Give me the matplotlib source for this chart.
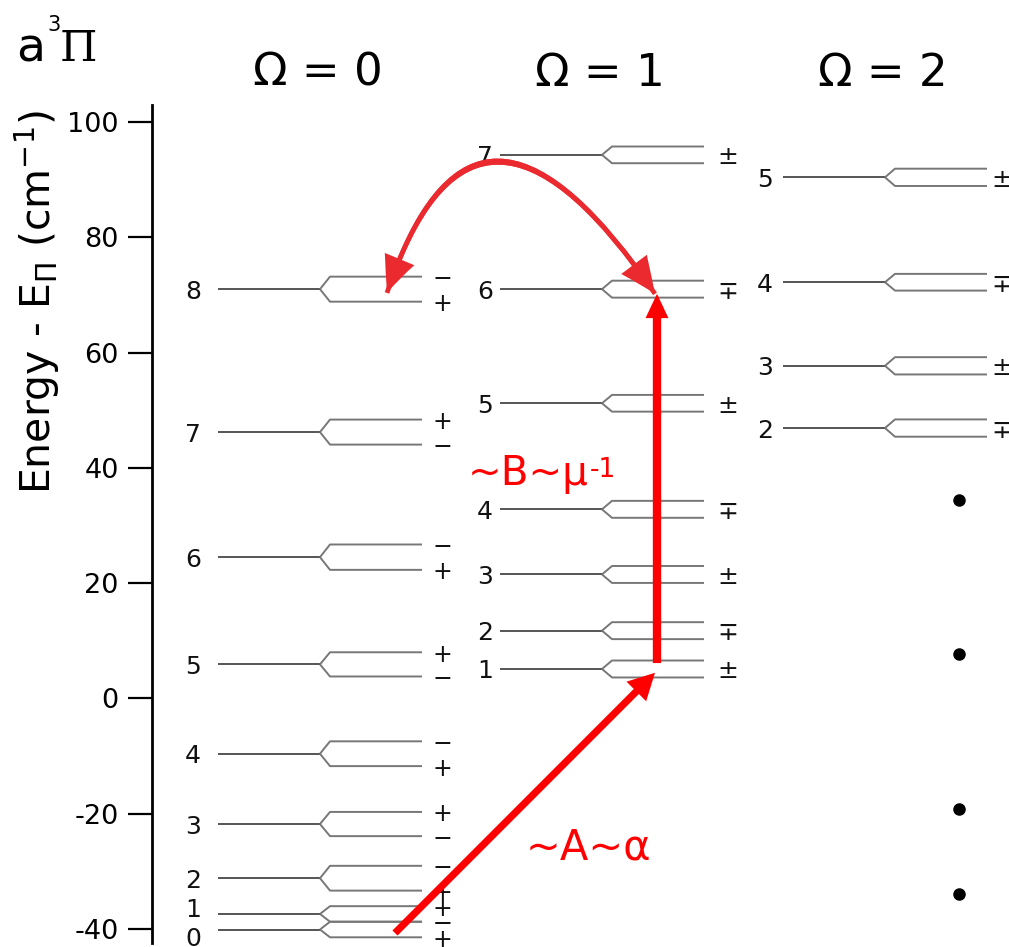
import matplotlib
matplotlib.use("Agg")
import matplotlib.pyplot as plt
from matplotlib.patches import FancyArrowPatch
from matplotlib.path import Path

# ---------------- data ----------------
omega_titles = ["Ω = 0", "Ω = 1", "Ω = 2"]

j_omega0 = [0, 1, 2, 3, 4, 5, 6, 7, 8]
e_omega0 = [-40.1, -37.4, -31.2, -21.8, -9.6, 5.9, 24.5, 46.2, 71.0]
split_omega0 = [1.35, 1.35, 2.15, 2.1, 2.15, 2.1, 2.2, 2.17, 2.17]
upper_parity_omega0 = ["−", "+", "−", "+", "−", "+", "−", "+", "−"]
lower_parity_omega0 = ["+", "−", "+", "−", "+", "−", "+", "−", "+"]

j_omega1 = [1, 2, 3, 4, 5, 6, 7]
e_omega1 = [5.1, 11.75, 21.5, 32.8, 51.2, 71.0, 94.3]
split_omega1 = [1.47, 1.47, 1.47, 1.47, 1.45, 1.47, 1.45]
parity_omega1 = ["±", "∓", "±", "∓", "±", "∓", "±"]

j_omega2 = [2, 3, 4, 5]
e_omega2 = [46.9, 57.7, 72.2, 90.4]
split_omega2 = [1.5, 1.5, 1.45, 1.5]
parity_omega2 = ["∓", "±", "∓", "±"]

ellipsis_energies = [34.5, 7.65, -19.2, -33.9]

yticks = [-40, -20, 0, 20, 40, 60, 80, 100]
ylabel = r"Energy - E$_\Pi$ (cm$^{-1}$)"

# ---------------- layout ----------------
W, H, DPI = 1009, 947, 100
fig = plt.figure(figsize=(W / DPI, H / DPI), dpi=DPI)
ax = fig.add_axes([152 / W, 1 - 943 / H, (W - 152) / W, (943 - 105) / H])
ax.set_xlim(152, W)
ax.set_ylim(-42.44, 102.95)

for s in ("top", "right", "bottom"):
    ax.spines[s].set_visible(False)
ax.spines["left"].set_linewidth(2.0)
ax.set_xticks([])
ax.set_yticks(yticks)
ax.set_yticklabels([str(v) for v in yticks])
ax.tick_params(axis="y", direction="out", length=17, width=1.6, labelsize=19.5, pad=7)


def fx(x):
    return x / W


def fy(y):
    return 1 - y / H


LEFT_COL = "#555555"
BR_COL = "#777777"
LEN_LEFT, LEN_DIAG, LEN_BR = 102, 10, 92

col_base = [218, 500, 783]
num_dx = [-25, -15, -18]
par_dx = [224, 228, 219]
# small vertical nudges of the J labels of the two crowded lowest levels (energy units)
num_nudge = {(0, 0): -1.25, (0, 1): 1.1}


def draw_column(ci, js, energies, splits):
    b = col_base[ci]
    for j, E, s in zip(js, energies, splits):
        ax.plot([b, b + LEN_LEFT], [E, E], color=LEFT_COL, lw=1.4,
                solid_capstyle="butt", clip_on=False, zorder=2)
        for sg in (1, -1):
            ax.plot([b + LEN_LEFT, b + LEN_LEFT + LEN_DIAG, b + LEN_LEFT + LEN_DIAG + LEN_BR],
                    [E, E + sg * s, E + sg * s], color=BR_COL, lw=1.4,
                    solid_capstyle="butt", clip_on=False, zorder=2)
        ax.text(b + num_dx[ci], E + num_nudge.get((ci, j), 0.0), str(j), ha="center",
                va="center_baseline", fontsize=18, color="#111111")


draw_column(0, j_omega0, e_omega0, split_omega0)
draw_column(1, j_omega1, e_omega1, split_omega1)
draw_column(2, j_omega2, e_omega2, split_omega2)

# parity labels
for E, s, up, lo in zip(e_omega0, split_omega0, upper_parity_omega0, lower_parity_omega0):
    x = col_base[0] + par_dx[0]
    ax.text(x, E + s, up, ha="center", va="center_baseline", fontsize=17, color="#111111")
    ax.text(x, E - s, lo, ha="center", va="center_baseline", fontsize=17, color="#111111")
for E, p in zip(e_omega1, parity_omega1):
    ax.text(col_base[1] + par_dx[1], E, p, ha="center", va="center_baseline",
            fontsize=18, color="#111111")
for E, p in zip(e_omega2, parity_omega2):
    ax.text(col_base[2] + par_dx[2], E, p, ha="center", va="center_baseline",
            fontsize=18, color="#111111", clip_on=False)

# vertical ellipsis dots in the Omega=2 column
ax.plot([959] * len(ellipsis_energies), ellipsis_energies, "o", color="black",
        markersize=8, clip_on=False, zorder=3)

# column titles
for ci, t in enumerate(omega_titles):
    fig.text(fx(col_base[ci] + 100), fy(86), t, ha="center", va="baseline", fontsize=32.5)

# state label a^3 Pi
fig.text(fx(16), fy(61), "a", ha="left", va="baseline", fontsize=34)
fig.text(fx(47), fy(31), "3", ha="left", va="baseline", fontsize=15)
fig.text(fx(60), fy(61), "Π", ha="left", va="baseline", fontsize=31, family="DejaVu Serif")

# y label
fig.text(fx(37), fy(302), ylabel, rotation=90, ha="center", va="center", fontsize=29.5)

# ---------------- arrows ----------------
RED = "#ff0000"
RED2 = "#ea2a2f"

# ~A~alpha : from Omega=0, J=0 to Omega=1, J=1
pA = (col_base[0] + 177, e_omega0[0] - 0.45 * split_omega0[0])
pB = (col_base[1] + 155, e_omega1[0] - 0.45 * split_omega1[0])
ax.add_patch(FancyArrowPatch(pA, pB, arrowstyle="simple,tail_width=0.52,head_width=2.0,head_length=1.9",
                             mutation_scale=10, color=RED, lw=0, shrinkA=0, shrinkB=0,
                             clip_on=False, zorder=5))

# ~B~mu^-1 : from Omega=1, J=1 up to J=6
pC = (col_base[1] + 157, e_omega1[0] + 0.7 * split_omega1[0])
pD = (col_base[1] + 157, e_omega1[5] - 0.55 * split_omega1[5])
ax.add_patch(FancyArrowPatch(pC, pD, arrowstyle="simple,tail_width=0.6,head_width=1.65,head_length=1.75",
                             mutation_scale=10, color=RED, lw=0, shrinkA=0, shrinkB=0,
                             clip_on=False, zorder=5))

# curved double arrow between Omega=0 J=8 and Omega=1 J=6
pL = (col_base[0] + 169, e_omega0[8] - 0.3 * split_omega0[8])
pR = (col_base[1] + 155, e_omega1[5] - 0.55 * split_omega1[5])
pM = (475, 116.0)
for pts in ([pL, pM, pR], [pR, pM, pL]):
    path = Path(pts, [Path.MOVETO, Path.CURVE3, Path.CURVE3])
    ax.add_patch(FancyArrowPatch(path=path,
                                 arrowstyle="simple,tail_width=0.34,head_width=2.3,head_length=2.6",
                                 mutation_scale=10, color=RED2, lw=0, clip_on=False, zorder=5))

# labels of the arrows
tB = ax.text(468, 100 - (485 - 122) / 5.764, "~B~μ", ha="left", va="baseline",
             fontsize=29, color=RED)
ax.annotate("-1", xy=(1.0, 1.0), xycoords=tB, xytext=(1, -2), textcoords="offset points",
            ha="left", va="top", fontsize=19, color=RED)
ax.text(588, 100 - (848 - 122) / 5.764, "~A~α", ha="center", va="center",
        fontsize=30, color=RED)

fig.savefig("out.png", dpi=DPI)
